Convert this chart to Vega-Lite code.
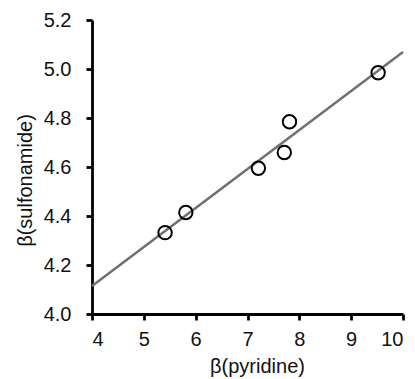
{
  "$schema": "https://vega.github.io/schema/vega-lite/v6.json",
  "autosize": "none",
  "padding": {"left": 92, "top": 20, "right": 12, "bottom": 65},
  "width": 311,
  "height": 294,
  "background": "white",
  "config": {
    "view": {"stroke": null},
    "font": "Liberation Sans",
    "axis": {
      "grid": false,
      "domainColor": "black",
      "domainWidth": 2.8,
      "tickColor": "black",
      "tickWidth": 2.8,
      "tickSize": 6,
      "labelFont": "Liberation Sans",
      "labelFontSize": 20,
      "labelColor": "#111111",
      "titleFont": "Liberation Sans",
      "titleFontSize": 20,
      "titleFontWeight": "normal",
      "titleColor": "#111111"
    }
  },
  "datasets": {
    "points": [
      {"pyridine": 5.41, "sulfonamide": 4.332},
      {"pyridine": 5.81, "sulfonamide": 4.414},
      {"pyridine": 7.21, "sulfonamide": 4.595},
      {"pyridine": 7.71, "sulfonamide": 4.659},
      {"pyridine": 7.81, "sulfonamide": 4.785},
      {"pyridine": 9.52, "sulfonamide": 4.985}
    ],
    "fit": [
      {"pyridine": 4, "sulfonamide": 4.114},
      {"pyridine": 10, "sulfonamide": 5.069}
    ]
  },
  "layer": [
    {
      "data": {"name": "fit"},
      "mark": {"type": "line", "color": "#707070", "strokeWidth": 2.5},
      "encoding": {
        "x": {"field": "pyridine", "type": "quantitative",
              "scale": {"domain": [4, 10], "nice": false, "zero": false},
              "axis": {"values": [4,5,6,7,8,9,10], "title": "β(pyridine)", "labelPadding": 9, "titlePadding": 7, "titleX": 165}},
        "y": {"field": "sulfonamide", "type": "quantitative",
              "scale": {"domain": [4.0, 5.2], "nice": false, "zero": false},
              "axis": {"values": [4.0,4.2,4.4,4.6,4.8,5.0,5.2], "format": ".1f", "title": "β(sulfonamide)", "labelPadding": 15, "titlePadding": 8, "titleY": 160}}
      }
    },
    {
      "data": {"name": "points"},
      "mark": {"type": "point", "shape": "circle", "filled": false, "color": "black", "strokeWidth": 2, "size": 180, "opacity": 1},
      "encoding": {
        "x": {"field": "pyridine", "type": "quantitative"},
        "y": {"field": "sulfonamide", "type": "quantitative"}
      }
    }
  ]
}
